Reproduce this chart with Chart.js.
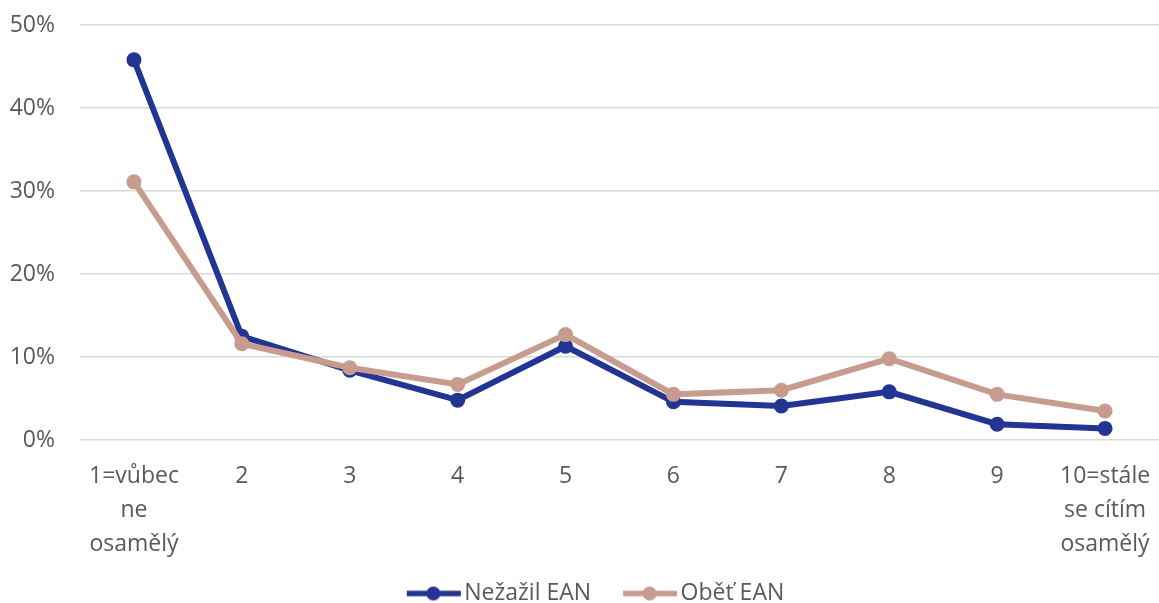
<!DOCTYPE html>
<html>
<head>
<meta charset="utf-8">
<script src="https://cdn.jsdelivr.net/npm/chart.js@4"></script>
<style>
  html, body { margin: 0; padding: 0; background: #fff; }
  #wrap { width: 1159px; height: 603px; position: relative; }
</style>
</head>
<body>
<div id="wrap"><canvas id="chart"></canvas></div>
<script>
const categories = [
  ["1=vůbec", "ne", "osamělý"], "2", "3", "4", "5", "6", "7", "8", "9",
  ["10=stále", "se cítím", "osamělý"]
];
const nezazil = [45.8, 12.5, 8.4, 4.8, 11.3, 4.6, 4.1, 5.8, 1.9, 1.4];
const obet = [31.1, 11.6, 8.7, 6.7, 12.7, 5.5, 6.0, 9.8, 5.5, 3.5];
const seriesNames = ["Nežažil EAN", "Oběť EAN"];
const yTicks = [0, 10, 20, 30, 40, 50];

const blue = "#233592";
const rose = "#C89B8F";
const textColor = "#595959";
const fontFamily = "'Open Sans', 'Noto Sans', sans-serif";

// legend marker: short line with a dot, drawn in the right part of the image
const markerBox = 68;
const makeMarker = (color) => {
  const c = document.createElement("canvas");
  c.width = markerBox + 18;
  c.height = 16;
  const ctx = c.getContext("2d");
  const x0 = c.width - 57;
  ctx.strokeStyle = color;
  ctx.lineWidth = 5.5;
  ctx.beginPath();
  ctx.moveTo(x0 + 2, 8);
  ctx.lineTo(c.width - 1, 8);
  ctx.stroke();
  ctx.fillStyle = color;
  ctx.beginPath();
  ctx.arc(x0 + 28.5, 8, 7, 0, Math.PI * 2);
  ctx.fill();
  return c;
};

// order: the rose series sits on top of the blue one, as in the source
const mkDataset = (label, data, color, order) => ({
  label: label,
  data: data,
  order: order,
  borderColor: color,
  backgroundColor: color,
  borderWidth: 6,
  pointRadius: 7.5,
  pointBorderWidth: 0,
  pointBackgroundColor: color,
  tension: 0,
  fill: false,
});

new Chart(document.getElementById("chart"), {
  type: "line",
  data: {
    labels: categories,
    datasets: [
      mkDataset(seriesNames[0], nezazil, blue, 1),
      mkDataset(seriesNames[1], obet, rose, 0),
    ],
  },
  options: {
    responsive: true,
    maintainAspectRatio: false,
    animation: false,
    layout: { autoPadding: false, padding: { left: 10, right: 0, top: 25, bottom: -12 } },
    plugins: {
      tooltip: { enabled: false },
      legend: {
        position: "bottom",
        labels: {
          color: textColor,
          font: { family: fontFamily, size: 23 },
          usePointStyle: true,
          pointStyleWidth: markerBox,
          boxHeight: 16,
          padding: 10,
          generateLabels: (chart) =>
            chart.data.datasets.map((ds, i) => ({
              text: ds.label,
              fontColor: textColor,
              pointStyle: makeMarker(ds.borderColor),
              datasetIndex: i,
              hidden: false,
              lineWidth: 0,
            })),
        },
      },
    },
    scales: {
      x: {
        offset: true,
        grid: { display: false },
        border: { display: false },
        ticks: {
          color: textColor,
          font: { family: fontFamily, size: 23, lineHeight: 1.48 },
          maxRotation: 0,
          autoSkip: false,
          padding: 11,
        },
        afterFit: (axis) => {
          axis.height = 132;
          axis.paddingLeft = 0;
          axis.paddingRight = 0;
        },
      },
      y: {
        min: 0,
        max: 50,
        afterBuildTicks: (axis) => {
          axis.ticks = yTicks.map((v) => ({ value: v }));
        },
        afterFit: (axis) => {
          axis.width = 70;
          axis.paddingTop = 0;
          axis.paddingBottom = 0;
        },
        grid: { color: "#d9d9d9", lineWidth: 1.5, drawTicks: false },
        border: { display: false },
        ticks: {
          color: textColor,
          font: { family: fontFamily, size: 23 },
          padding: 25,
          callback: (v) => v + "%",
        },
      },
    },
  },
});
</script>
</body>
</html>
